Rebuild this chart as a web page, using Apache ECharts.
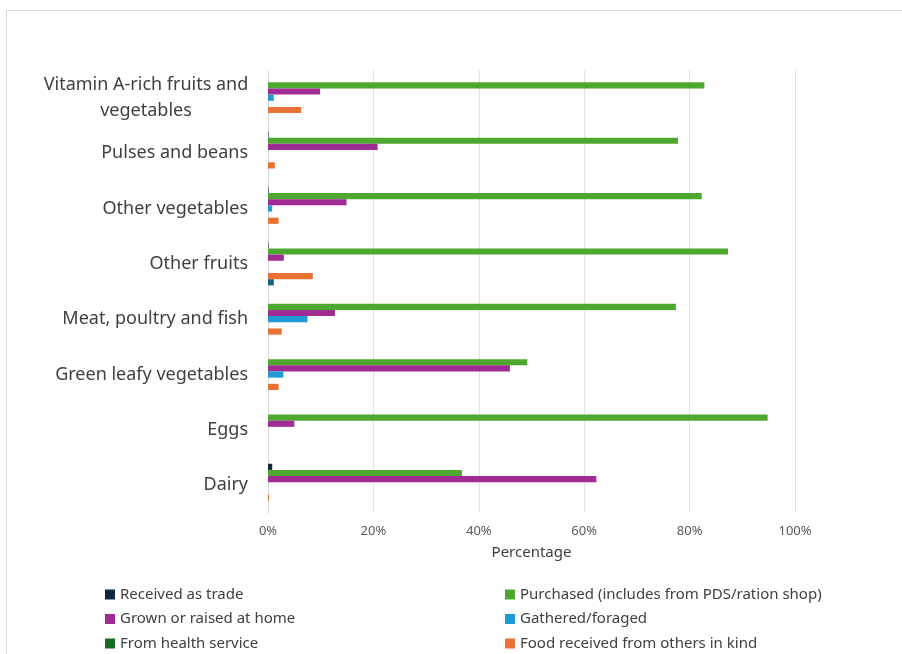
<!DOCTYPE html>
<html>
<head>
<meta charset="utf-8">
<script src="https://cdn.jsdelivr.net/npm/echarts@6/dist/echarts.min.js"></script>
<style>
html,body{margin:0;padding:0;background:#fff;}
#chart{width:902px;height:654px;}
</style>
</head>
<body>
<div id="chart"></div>
<script>
const categories = ['Vitamin A-rich fruits and vegetables','Pulses and beans','Other vegetables','Other fruits','Meat, poultry and fish','Green leafy vegetables','Eggs','Dairy'];
const xTicks = [0, 20, 40, 60, 80, 100];
const receivedTrade = [0, 0.1, 0.1, 0.1, 0, 0, 0, 0.8];
const purchased = [82.8, 77.8, 82.3, 87.3, 77.4, 49.2, 94.8, 36.8];
const grownHome = [9.9, 20.8, 14.9, 3.0, 12.7, 45.9, 5.0, 62.3];
const gathered = [1.1, 0, 0.8, 0, 7.5, 2.9, 0, 0];
const healthService = [0, 0, 0, 0, 0, 0, 0, 0];
const othersInKind = [6.3, 1.3, 2.0, 8.5, 2.6, 2.0, 0, 0.2];
const otherSource = [0, 0, 0, 1.1, 0, 0, 0, 0];

const seriesNames = ['Received as trade','Purchased (includes from PDS/ration shop)','Grown or raised at home','Gathered/foraged','From health service','Food received from others in kind',' '];
const seriesData = [receivedTrade, purchased, grownHome, gathered, healthService, othersInKind, otherSource];
const colors = ['#0E2841','#4EA72E','#A02B93','#1E9BD7','#196B24','#E97132','#156082'];

const FONT = 'Noto Sans';
const chart = echarts.init(document.getElementById('chart'));
chart.setOption({
  animation: false,
  backgroundColor: '#ffffff',
  textStyle: {fontFamily: FONT},
  graphic: [{
    type: 'rect', shape: {x: 6.5, y: 10.5, width: 1000, height: 1000},
    style: {fill: 'none', stroke: '#d9d9d9', lineWidth: 1}, silent: true
  }],
  grid: {left: 268, right: 107, top: 70, bottom: 141, containLabel: false},
  legend: [{
    left: 100, top: 582, height: 90, orient: 'vertical', itemGap: 9.5,
    itemWidth: 10, itemHeight: 10, icon: 'rect',
    textStyle: {fontFamily: FONT, fontSize: 15, color: '#404040'},
    data: [seriesNames[0], seriesNames[2], seriesNames[4]]
  },{
    left: 500, top: 582, height: 90, orient: 'vertical', itemGap: 9.5,
    itemWidth: 10, itemHeight: 10, icon: 'rect',
    textStyle: {fontFamily: FONT, fontSize: 15, color: '#404040'},
    data: [seriesNames[1], seriesNames[3], seriesNames[5]]
  }],
  xAxis: {
    type: 'value', min: 0, max: 100, interval: 20,
    name: 'Percentage', nameLocation: 'middle', nameGap: 32,
    nameTextStyle: {fontFamily: FONT, fontSize: 15, color: '#404040'},
    axisLine: {show: false}, axisTick: {show: false},
    axisLabel: {formatter: v => xTicks.includes(v) ? v + '%' : '', fontFamily: FONT, fontSize: 13, color: '#595959', margin: 12},
    splitLine: {show: true, lineStyle: {color: '#e3e3e3', width: 1}}
  },
  yAxis: {
    type: 'category', data: categories, inverse: true,
    axisLine: {show: true, lineStyle: {color: '#d9d9d9'}},
    axisTick: {show: false},
    axisLabel: {
      fontFamily: FONT, fontSize: 18, color: '#404040', margin: 20,
      formatter: function (v) {
        if (v === categories[0]) return '{c|Vitamin A-rich fruits and}\n{c|vegetables}';
        return v;
      },
      rich: {c: {width: 204, align: 'center', fontSize: 18, fontFamily: FONT, color: '#404040', lineHeight: 26}}
    }
  },
  series: seriesData.map((d, i) => ({
    name: seriesNames[i], type: 'bar', data: d,
    itemStyle: {color: colors[i]},
    barGap: '0%', barCategoryGap: '22%'
  }))
});
</script>
</body>
</html>
